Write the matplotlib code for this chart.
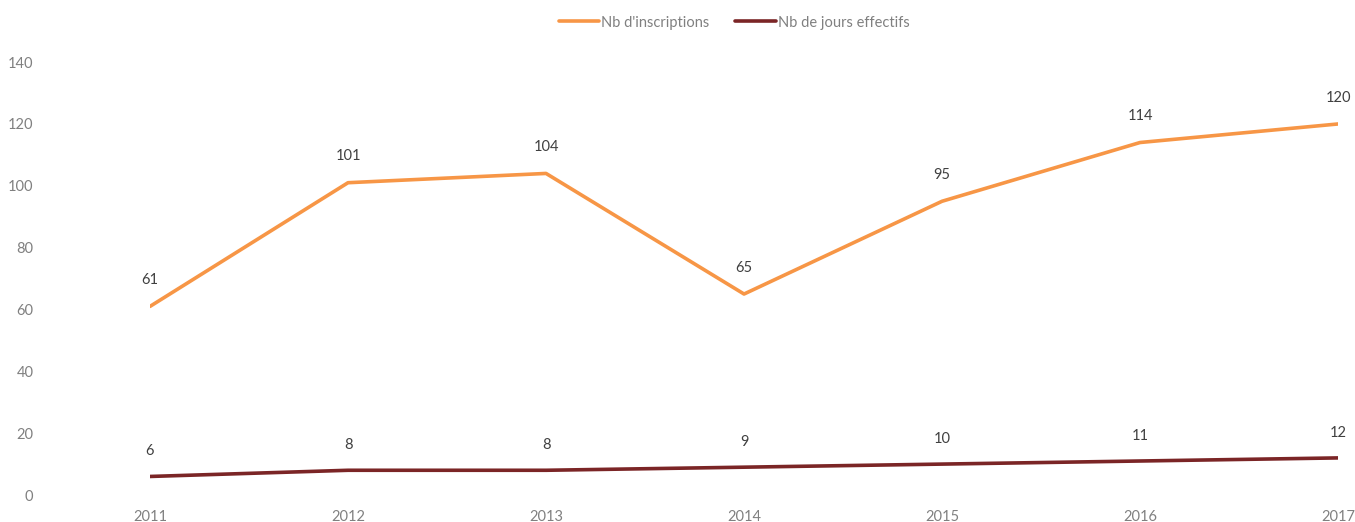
import matplotlib.pyplot as plt

plt.rcParams['font.family'] = ['Lato', 'DejaVu Sans']

years = [2011, 2012, 2013, 2014, 2015, 2016, 2017]
inscriptions = [61, 101, 104, 65, 95, 114, 120]
jours = [6, 8, 8, 9, 10, 11, 12]

orange = '#F79646'
darkred = '#7B2526'
grey = '#808080'
label_col = '#404040'

fig = plt.figure(figsize=(13.55, 5.22), dpi=100)
ax = fig.add_axes([0.1107, 0.0517, 0.8768, 0.8293])

ax.plot(years, inscriptions, color=orange, lw=2.6, solid_capstyle='round', label="Nb d'inscriptions")
ax.plot(years, jours, color=darkred, lw=2.6, solid_capstyle='round', label='Nb de jours effectifs')

# data labels above each point
for x, v in zip(years, inscriptions):
    ax.annotate(str(v), (x, v), xytext=(0, 14), textcoords='offset points',
                ha='center', va='bottom', fontsize=10.5, color=label_col)
for x, v in zip(years, jours):
    ax.annotate(str(v), (x, v), xytext=(0, 13), textcoords='offset points',
                ha='center', va='bottom', fontsize=10.5, color=label_col)

ax.set_xlim(2011, 2017)
ax.set_ylim(0, 140)
ax.set_xticks(years)
ax.set_yticks(range(0, 141, 20))
ax.tick_params(axis='y', length=0, pad=84, labelsize=10.5, labelcolor=grey)
ax.tick_params(axis='x', length=0, pad=11, labelsize=10.5, labelcolor=grey)
for s in ax.spines.values():
    s.set_visible(False)

ax.legend(loc='lower center', bbox_to_anchor=(0.4916, 1.045), ncol=2, frameon=False,
          fontsize=10.5, labelcolor=grey, handlelength=2.8, handletextpad=0.1,
          columnspacing=1.8)

fig.savefig('out.png', dpi=100)
